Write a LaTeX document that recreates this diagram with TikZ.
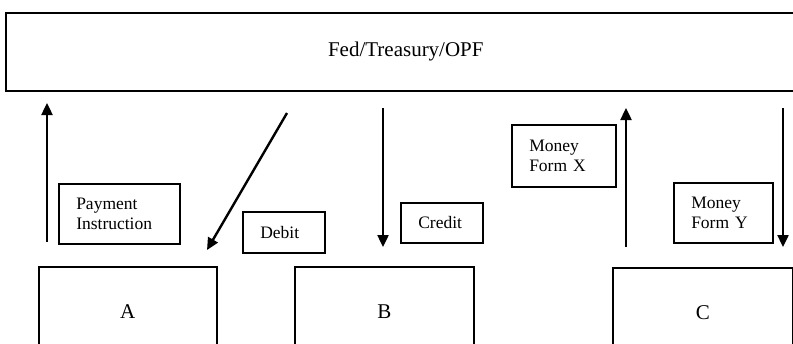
\documentclass[tikz,border=0pt]{standalone}
\usepackage{fontspec}
\setmainfont{Liberation Serif}
\usetikzlibrary{arrows.meta,positioning}

\begin{document}
\begin{tikzpicture}[x=1pt,y=-1pt,
    box/.style={draw,line width=1.6pt,anchor=north west,inner sep=0pt,font=\fontsize{21}{24}\selectfont},
    lbl/.style={draw,line width=1.5pt,anchor=north west,align=left,inner xsep=17.5pt,inner ysep=0pt,font=\fontsize{17.5}{20}\selectfont},
    flow/.style={line width=2.4pt,-{Triangle[length=12pt,width=11pt]}}]
  \clip (0,0) rectangle (793,343);
  % parties
  \node[box,minimum width=800pt,minimum height=78pt] (fed) at (5,12) {Fed/Treasury/OPF};
  \node[box,minimum width=178pt,minimum height=90pt] (A) at (38,266) {A};
  \node[box,minimum width=179pt,minimum height=90pt] (B) at (294,266) {B};
  \node[box,minimum width=180pt,minimum height=90pt] (C) at (612,267) {C};
  % labels
  \node[lbl,text width=86pt,minimum height=60pt] (pay) at (58,183) {Payment\\Instruction};
  \node[lbl,text width=47pt,minimum height=41pt] (debit) at (242,211) {Debit};
  \node[lbl,text width=47pt,minimum height=40pt] (credit) at (400,202) {Credit};
  \node[lbl,text width=69pt,minimum height=62pt] (formx) at (511,124) {Money\\Form X};
  \node[lbl,text width=64pt,minimum height=60pt] (formy) at (673,182) {Money\\Form Y};
  % flows
  \coordinate (pi0) at (47,242); \coordinate (pi1) at (47,103);
  \coordinate (db0) at (287,113); \coordinate (db1) at (207,250);
  \coordinate (cr0) at (383,108); \coordinate (cr1) at (383,247);
  \coordinate (mx0) at (626,247); \coordinate (mx1) at (626,108);
  \coordinate (my0) at (783,108); \coordinate (my1) at (783,247);
  \foreach \s/\t in {pi0/pi1,db0/db1,cr0/cr1,mx0/mx1,my0/my1}
    \draw[flow] (\s)--(\t);
\end{tikzpicture}
\end{document}
